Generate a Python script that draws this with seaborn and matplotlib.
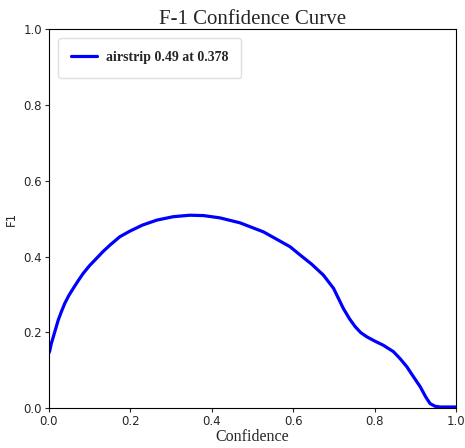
import pandas as pd
import matplotlib.pyplot as plt
import seaborn as sns

# Punts llegits de la corba F1-confiança
confidence = [0.0, 0.002, 0.006, 0.011, 0.017, 0.023, 0.031, 0.039, 0.049, 0.060, 0.072,
              0.084, 0.100, 0.117, 0.133, 0.150, 0.174, 0.199, 0.230, 0.265, 0.305,
              0.346, 0.380, 0.420, 0.469, 0.527, 0.592, 0.617, 0.645, 0.674, 0.699,
              0.723, 0.738, 0.752, 0.766, 0.781, 0.800, 0.821, 0.846, 0.862, 0.879,
              0.895, 0.912, 0.925, 0.936, 0.948, 0.961, 0.980, 1.0]
f1 = [0.145, 0.150, 0.170, 0.188, 0.210, 0.232, 0.255, 0.276, 0.297, 0.316, 0.336,
      0.355, 0.376, 0.395, 0.413, 0.430, 0.452, 0.467, 0.483, 0.496, 0.505,
      0.509, 0.508, 0.502, 0.489, 0.465, 0.426, 0.404, 0.380, 0.351, 0.316,
      0.263, 0.236, 0.215, 0.199, 0.188, 0.177, 0.166, 0.149, 0.131, 0.109,
      0.083, 0.056, 0.030, 0.012, 0.005, 0.003, 0.003, 0.003]
label = "airstrip 0.49 at 0.378"

df = pd.DataFrame({"Confidence": confidence, "F1": f1})

sns.set_style("ticks")
plt.rcParams['font.family'] = ['DejaVu Sans']

fig, ax = plt.subplots(figsize=(4.65, 4.48), dpi=100)
sns.lineplot(data=df, x="Confidence", y="F1", color="blue", linewidth=2.3, label=label, ax=ax)

ax.set_xlim(0, 1)
ax.set_ylim(0, 1)
ax.tick_params(labelsize=8.5, length=3, width=0.8, direction="out", pad=2)
for s in ax.spines.values():
    s.set_color("black")
    s.set_linewidth(0.8)

ax.set_title("F-1 Confidence Curve", fontsize=15, family="Liberation Serif", pad=3)
ax.set_xlabel("Confidence", fontsize=11.5, family="Liberation Serif", labelpad=1)
ax.set_ylabel("F1", fontsize=8.5, labelpad=4)

leg = ax.legend(loc="upper left", borderpad=0.95, handlelength=1.9, handletextpad=0.6,
                borderaxespad=0.65, fancybox=True,
                prop={"family": "Liberation Serif", "weight": "bold", "size": 10})
leg.get_frame().set_edgecolor("#d8d8d8")

plt.subplots_adjust(left=0.105, right=0.981, top=0.935, bottom=0.089)
plt.savefig("out.png", dpi=100)
plt.close()
